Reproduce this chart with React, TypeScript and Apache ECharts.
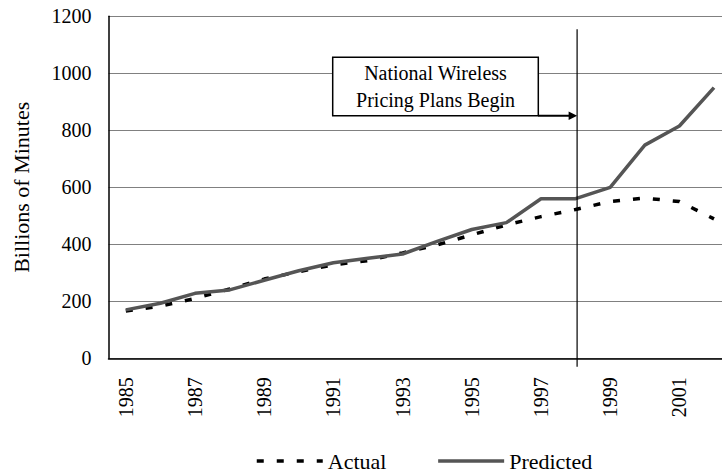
import React, { useEffect, useRef } from "react";
import * as echarts from "echarts";

const years = ["1985","1986","1987","1988","1989","1990","1991","1992","1993","1994","1995","1996","1997","1998","1999","2000","2001","2002"];
const actual = [166, 183, 210, 243, 278, 304, 328, 343, 370, 398, 433, 468, 497, 522, 550, 562, 550, 489];
const predicted = [170, 193, 228, 240, 274, 307, 335, 351, 366, 410, 452, 476, 560, 560, 600, 748, 815, 950];
const yTicks = { min: 0, max: 1200, interval: 200 };
const policyYear = "1998";
const policyLineRange = [1155, -30];
const annotation = "National Wireless\nPricing Plans Begin";

const FONT = "Liberation Serif";

export default function App() {
  const ref = useRef<HTMLDivElement>(null);
  useEffect(() => {
    if (!ref.current) return;
    const chart = echarts.init(ref.current, undefined, { renderer: "svg" });
    chart.setOption({
      animation: false,
      backgroundColor: "#fff",
      grid: { left: 108.5, top: 16.3, width: 622.8, height: 342, containLabel: false },
      xAxis: {
        type: "category",
        data: years,
        boundaryGap: true,
        axisLine: { show: true, lineStyle: { color: "#000", width: 1.5 } },
        axisTick: { show: false },
        axisLabel: { rotate: 90, interval: 1, margin: 19, fontSize: 20, fontFamily: FONT, color: "#000" },
        splitLine: { show: false },
      },
      yAxis: {
        type: "value",
        min: yTicks.min,
        max: yTicks.max,
        interval: yTicks.interval,
        name: "Billions of Minutes",
        nameLocation: "middle",
        nameRotate: 90,
        nameGap: 76,
        nameTextStyle: { fontSize: 22, fontFamily: FONT, color: "#000" },
        axisLine: { show: true, lineStyle: { color: "#000", width: 1.5 } },
        axisTick: { show: false },
        axisLabel: { margin: 17, fontSize: 20, fontFamily: FONT, color: "#000", formatter: (v: number) => String(v) },
        splitLine: { show: true, lineStyle: { color: "#808080", width: 1.2 } },
      },
      legend: {
        left: 250,
        top: 445,
        itemWidth: 66,
        itemHeight: 14,
        itemGap: 50,
        itemStyle: { opacity: 0 },
        lineStyle: { width: 3.5 },
        textStyle: { fontSize: 22, fontFamily: FONT, color: "#000" },
        data: ["Actual", "Predicted"],
      },
      series: [
        {
          name: "Actual",
          type: "line",
          data: actual,
          symbol: "none",
          lineStyle: { color: "#000", width: 3.5, type: [7, 13] },
          itemStyle: { color: "#000" },
          z: 3,
        },
        {
          name: "Predicted",
          type: "line",
          data: predicted,
          symbol: "none",
          lineStyle: { color: "#555", width: 3.5 },
          itemStyle: { color: "#555" },
          z: 4,
        },
      ],
    });

    const idx = years.indexOf(policyYear);
    const top = chart.convertToPixel({ gridIndex: 0 }, [idx, policyLineRange[0]]) as number[];
    const bot = chart.convertToPixel({ gridIndex: 0 }, [idx, policyLineRange[1]]) as number[];
    const lx = top[0] + 1.5;
    const boxX = 332.7, boxY = 57.3, boxW = 205.6, boxH = 58.4;
    const arrowY = boxY + boxH;

    chart.setOption({
      graphic: [
        {
          type: "line",
          z: 12,
          shape: { x1: lx, y1: top[1], x2: lx, y2: bot[1] },
          style: { stroke: "#000", lineWidth: 1.2 },
        },
        {
          type: "rect",
          z: 10,
          shape: { x: boxX, y: boxY, width: boxW, height: boxH },
          style: { fill: "#fff", stroke: "#000", lineWidth: 1.5 },
        },
        {
          type: "text",
          z: 11,
          x: boxX + boxW / 2,
          y: boxY + boxH / 2,
          style: {
            text: annotation,
            fontSize: 20,
            fontFamily: FONT,
            fill: "#000",
            align: "center",
            verticalAlign: "middle",
            lineHeight: 26.5,
          },
        },
        {
          type: "line",
          z: 11,
          shape: { x1: boxX + boxW, y1: arrowY, x2: lx - 6, y2: arrowY },
          style: { stroke: "#000", lineWidth: 2 },
        },
        {
          type: "polygon",
          z: 11,
          shape: { points: [[lx, arrowY], [lx - 8.5, arrowY - 4.3], [lx - 8.5, arrowY + 4.3]] },
          style: { fill: "#000" },
        },
      ],
    });
    return () => chart.dispose();
  }, []);
  return (
    <div style={{ position: "fixed", left: 0, top: 0, width: 722, height: 476, overflow: "hidden", background: "#fff" }}>
      <div ref={ref} style={{ width: 740, height: 476 }} />
    </div>
  );
}
